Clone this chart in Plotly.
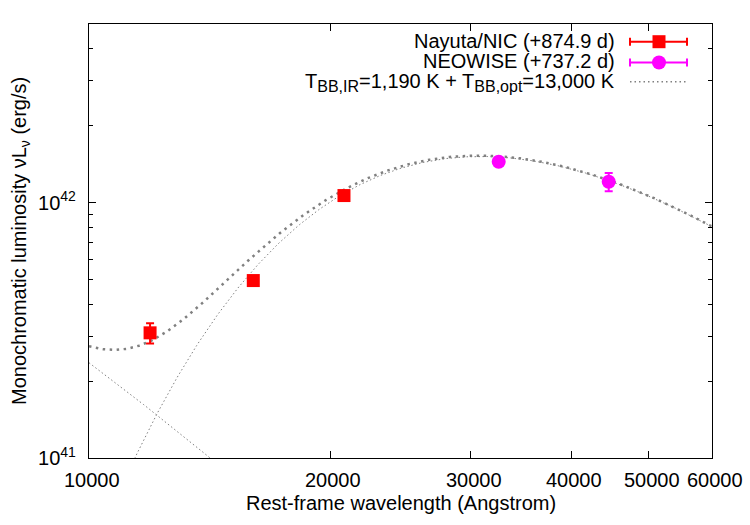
import numpy as np
import plotly.graph_objects as go

# ---------------- data ----------------
nic_wave = [11920, 16040, 20820]            # Angstrom
nic_lum = [3.09e41, 4.95e41, 1.065e42]      # erg/s
nic_err = [2.8e40, 1.0e40, 1.5e40]

wise_wave = [32490, 44580]
wise_lum = [1.444e42, 1.206e42]
wise_err = [1.5e40, 1.0e41]

# two-blackbody model parameters (from legend / picture)
T_IR = 1190.0          # K
T_OPT = 13000.0        # K
L_PEAK_IR = 1.515e42   # peak nuLnu of the IR component
L_OPT_10K = 2.36e41    # nuLnu of the optical component at 10000 A

x_tickvals = [10000, 20000, 30000, 40000, 50000, 60000]
x_ticktext = ["10000", "20000", "30000", "40000", "50000", "60000"]
y_tickvals = [1e41, 1e42]
y_ticktext = ["10<sup>41</sup>", "10<sup>42</sup>"]
y_minor = [2e41, 3e41, 4e41, 5e41, 6e41, 7e41, 8e41, 9e41, 2e42, 3e42, 4e42]

SUB = '<sub><span style="font-size:16px">{}</span></sub>'
legend_labels = [
    "Nayuta/NIC (+874.9 d)",
    "NEOWISE (+737.2 d)",
    "T" + SUB.format("BB,IR") + "=1,190 K + T" + SUB.format("BB,opt") + "=13,000 K",
]

# ---------------- model ----------------
HC_K = 1.4388e8  # hc/k in Angstrom*K


def nulnu_shape(wave, T):
    x = HC_K / (np.asarray(wave) * T)
    return x ** 4 / np.expm1(x)


wave_grid = np.logspace(4, np.log10(60000), 400)
peak_shape = nulnu_shape(HC_K / (3.9207 * T_IR), T_IR)
bb_ir = L_PEAK_IR * nulnu_shape(wave_grid, T_IR) / peak_shape
bb_opt = L_OPT_10K * nulnu_shape(wave_grid, T_OPT) / nulnu_shape(10000.0, T_OPT)
bb_tot = bb_ir + bb_opt

# ---------------- layout geometry ----------------
W, H = 750, 525
ML, MR, MT, MB = 89, 38, 24, 67
PW, PH = W - ML - MR, H - MT - MB


def px(x):
    return (x - ML) / PW


def py(y):
    return (H - MB - y) / PH


FONT = "Liberation Sans, Arial, sans-serif"
FS = 20
GRAY = "#808080"

fig = go.Figure()

fig.add_trace(go.Scatter(x=wave_grid, y=bb_ir, mode="lines",
                         line=dict(color=GRAY, width=1, dash="1.5px,2.5px"),
                         showlegend=False, hoverinfo="skip"))
fig.add_trace(go.Scatter(x=wave_grid, y=bb_opt, mode="lines",
                         line=dict(color=GRAY, width=1, dash="1.5px,2.5px"),
                         showlegend=False, hoverinfo="skip"))
fig.add_trace(go.Scatter(x=wave_grid, y=bb_tot, mode="lines",
                         line=dict(color=GRAY, width=2.5, dash="2.5px,4.5px"),
                         showlegend=False))

fig.add_trace(go.Scatter(
    x=nic_wave, y=nic_lum, mode="markers",
    marker=dict(symbol="square", size=13, color="#ff0000"),
    error_y=dict(type="data", array=nic_err, color="#ff0000", thickness=2, width=4),
    showlegend=False))
fig.add_trace(go.Scatter(
    x=wise_wave, y=wise_lum, mode="markers",
    marker=dict(symbol="circle", size=14, color="#ff00ff"),
    error_y=dict(type="data", array=wise_err, color="#ff00ff", thickness=2, width=4),
    showlegend=False))

axis_common = dict(
    showgrid=False, zeroline=False, showline=True, linecolor="black", linewidth=1.3,
    mirror="allticks", ticks="inside", ticklen=7, tickcolor="black", tickwidth=1,
    tickfont=dict(family=FONT, size=FS, color="black"),
)

fig.update_xaxes(type="log", range=[4, np.log10(60000)],
                 tickvals=x_tickvals, showticklabels=False, **axis_common)
fig.update_yaxes(type="log", range=[41, np.log10(5e42)],
                 tickvals=y_tickvals, ticktext=y_ticktext,
                 ticklabelstandoff=8,
                 minor=dict(tickvals=y_minor, ticks="inside", ticklen=4,
                            tickcolor="black", tickwidth=1),
                 **axis_common)

annotations = [
    dict(text="Rest-frame wavelength (Angstrom)", xref="paper", yref="paper",
         x=0.5, y=0, xanchor="center", yanchor="middle", yshift=-45,
         showarrow=False, font=dict(family=FONT, size=FS, color="black")),
    dict(text="Monochromatic luminosity νL<sub>ν</sub> (erg/s)", xref="paper", yref="paper",
         x=0, y=0.5, xanchor="center", yanchor="middle", xshift=-69, textangle=-90,
         showarrow=False, font=dict(family=FONT, size=FS, color="black")),
]

# x tick labels placed at the axis' own data positions
for tv, tt in zip(x_tickvals, x_ticktext):
    annotations.append(dict(text=tt, xref="x", yref="paper", x=np.log10(tv), y=0,
                            xanchor="center", yanchor="middle", yshift=-22, xshift=3,
                            showarrow=False, font=dict(family=FONT, size=FS, color="black")))

leg_rows = [40.5, 61, 82]
for lab, yy in zip(legend_labels, leg_rows):
    annotations.append(dict(text=lab, xref="paper", yref="paper", x=px(617), y=py(yy),
                            xanchor="right", yanchor="middle", showarrow=False,
                            font=dict(family=FONT, size=FS, color="black")))

shapes = []
sample_rows = [41.7, 62.5, 81.7]
for col, yy in [("#ff0000", sample_rows[0]), ("#ff00ff", sample_rows[1])]:
    shapes.append(dict(type="line", xref="paper", yref="paper", x0=px(630), x1=px(687),
                       y0=py(yy), y1=py(yy), line=dict(color=col, width=2)))
    for xc in (630, 687):
        shapes.append(dict(type="line", xref="paper", yref="paper", x0=px(xc), x1=px(xc),
                           y0=py(yy - 4), y1=py(yy + 4), line=dict(color=col, width=2)))
shapes.append(dict(type="rect", xref="paper", yref="paper",
                   x0=px(659 - 6.5), x1=px(659 + 6.5),
                   y0=py(sample_rows[0] - 6.5), y1=py(sample_rows[0] + 6.5),
                   fillcolor="#ff0000", line=dict(width=0)))
shapes.append(dict(type="circle", xref="paper", yref="paper",
                   x0=px(659 - 7), x1=px(659 + 7),
                   y0=py(sample_rows[1] - 7), y1=py(sample_rows[1] + 7),
                   fillcolor="#ff00ff", line=dict(width=0)))
shapes.append(dict(type="line", xref="paper", yref="paper", x0=px(630), x1=px(687),
                   y0=py(sample_rows[2]), y1=py(sample_rows[2]),
                   line=dict(color=GRAY, width=1.5, dash="1.5px,3px")))

fig.update_layout(
    width=W, height=H,
    margin=dict(l=ML, r=MR, t=MT, b=MB),
    paper_bgcolor="white", plot_bgcolor="white",
    showlegend=False,
    annotations=annotations, shapes=shapes,
    font=dict(family=FONT, size=FS, color="black"),
)

fig.write_html("out.html")
